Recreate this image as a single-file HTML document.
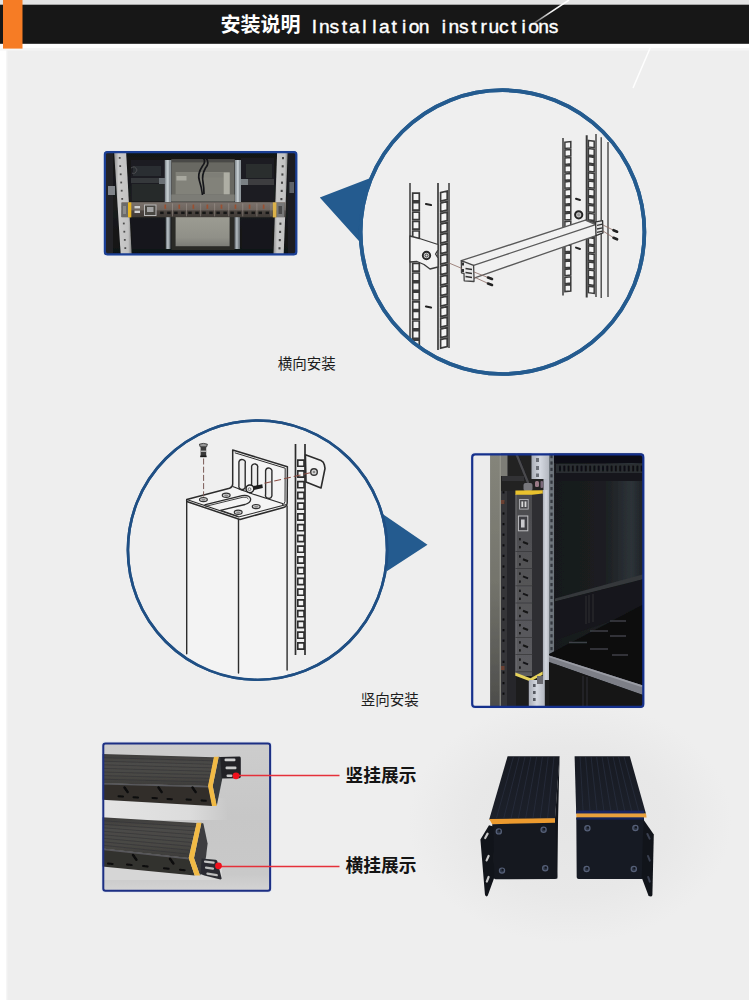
<!DOCTYPE html>
<html><head><meta charset="utf-8"><title>Installation instructions</title>
<style>html,body{margin:0;padding:0;background:#eeeeee;font-family:"Liberation Sans",sans-serif;}svg{display:block}</style>
</head><body>
<svg width="749" height="1000" viewBox="0 0 749 1000">
<rect x="0" y="0" width="749" height="1000" fill="#eeeeee"/>
<defs><radialGradient id="p4bg" cx="0.5" cy="0.45" r="0.5"><stop offset="0" stop-color="#e5e5e5"/><stop offset="0.55" stop-color="#e8e8e8"/><stop offset="0.9" stop-color="#eeeeee"/><stop offset="1" stop-color="#eeeeee"/></radialGradient></defs>
<rect x="390" y="700" width="360" height="270" fill="url(#p4bg)"/>
<rect x="0" y="44" width="6.5" height="956" fill="#ffffff"/>
<rect x="6.2" y="44" width="1.2" height="956" fill="#f6f6f6"/>
<rect x="0" y="0" width="749" height="5" fill="#e3e3e3"/>
<rect x="0" y="43.5" width="749" height="5" fill="#ffffff"/>
<rect x="0" y="48.5" width="749" height="2" fill="#f6f6f6"/>
<rect x="0" y="4.7" width="749" height="39.1" fill="#171717"/>
<rect x="3" y="0" width="19.5" height="48.6" fill="#f67c25"/>
<text x="220.5" y="31.8" font-family="'Liberation Sans', 'Noto Sans CJK SC', sans-serif" font-size="20" font-weight="bold" fill="#ffffff">安装说明</text>
<text y="32.6" font-family="'Liberation Sans', sans-serif" font-size="19.2" fill="#ffffff" stroke="#ffffff" stroke-width="0.4" text-anchor="middle"><tspan x="314.50">I</tspan><tspan x="324.46">n</tspan><tspan x="334.42">s</tspan><tspan x="344.38">t</tspan><tspan x="354.34">a</tspan><tspan x="364.30">l</tspan><tspan x="374.26">l</tspan><tspan x="384.22">a</tspan><tspan x="394.18">t</tspan><tspan x="404.14">i</tspan><tspan x="414.10">o</tspan><tspan x="424.06">n</tspan><tspan x="443.98">i</tspan><tspan x="453.94">n</tspan><tspan x="463.90">s</tspan><tspan x="473.86">t</tspan><tspan x="483.82">r</tspan><tspan x="493.78">u</tspan><tspan x="503.74">c</tspan><tspan x="513.70">t</tspan><tspan x="523.66">i</tspan><tspan x="533.62">o</tspan><tspan x="543.58">n</tspan><tspan x="553.54">s</tspan></text>
<linearGradient id="dl" gradientUnits="userSpaceOnUse" x1="534" y1="23" x2="569" y2="0"><stop offset="0" stop-color="#fff" stop-opacity="0.35"/><stop offset="0.5" stop-color="#fff" stop-opacity="0.95"/><stop offset="1" stop-color="#fff" stop-opacity="1"/></linearGradient>
<line x1="534.5" y1="22.8" x2="569" y2="0" stroke="url(#dl)" stroke-width="1.5"/>
<line x1="633" y1="88" x2="651" y2="46" stroke="#ffffff" stroke-width="1.5" opacity="0.95"/>
<text x="277.8" y="369" font-family="'Liberation Sans', 'Noto Sans CJK SC', sans-serif" font-size="14.5" fill="#1c1c1c">横向安装</text>
<text x="360.7" y="704.6" font-family="'Liberation Sans', 'Noto Sans CJK SC', sans-serif" font-size="14.5" fill="#1c1c1c">竖向安装</text>
<text x="345.6" y="782" font-family="'Liberation Sans', 'Noto Sans CJK SC', sans-serif" font-size="17.7" font-weight="bold" fill="#141414">竖挂展示</text>
<text x="345.6" y="872" font-family="'Liberation Sans', 'Noto Sans CJK SC', sans-serif" font-size="17.7" font-weight="bold" fill="#141414">横挂展示</text>
<clipPath id="cl1"><circle cx="502.5" cy="232.1" r="140.4"/></clipPath>
<path fill="#245b8f" d="M319.8 197.6 L369.8 178.3 Q360 205 359.4 241.5 Z"/>
<circle cx="502.5" cy="232.1" r="141.9" fill="#efefef" stroke="#245b8f" stroke-width="3.7"/>
<g clip-path="url(#cl1)">
<g stroke="#3a3a3a" fill="none">
<line x1="410" y1="183" x2="410" y2="345" stroke-width="1.5"/>
<line x1="438" y1="183" x2="438" y2="350" stroke-width="1.7"/>
<line x1="449" y1="183" x2="449" y2="348" stroke-width="1.5"/>
</g>
<path d="M412.7 193.2 L419.3 193.2 L419.3 200.8 L412.7 200.8 Z M412.7 202.6 L419.3 202.6 L419.3 210.2 L412.7 210.2 Z M412.7 212.1 L419.3 212.1 L419.3 219.7 L412.7 219.7 Z M412.7 221.5 L419.3 221.5 L419.3 229.1 L412.7 229.1 Z M412.7 231.0 L419.3 231.0 L419.3 238.6 L412.7 238.6 Z " fill="#f4f4f4" stroke="#3a3a3a" stroke-width="1.7" stroke-linejoin="miter"/>
<path d="M412.7 263.4 L419.3 263.4 L419.3 271.2 L412.7 271.2 Z M412.7 273.0 L419.3 273.0 L419.3 280.8 L412.7 280.8 Z M412.7 282.6 L419.3 282.6 L419.3 290.4 L412.7 290.4 Z M412.7 292.2 L419.3 292.2 L419.3 300.0 L412.7 300.0 Z M412.7 301.8 L419.3 301.8 L419.3 309.6 L412.7 309.6 Z M412.7 311.4 L419.3 311.4 L419.3 319.2 L412.7 319.2 Z M412.7 321.0 L419.3 321.0 L419.3 328.8 L412.7 328.8 Z M412.7 330.6 L419.3 330.6 L419.3 338.4 L412.7 338.4 Z M412.7 340.2 L419.3 340.2 L419.3 348.0 L412.7 348.0 Z " fill="#f4f4f4" stroke="#3a3a3a" stroke-width="1.7" stroke-linejoin="miter"/>
<path d="M440.6 192.6 L447.2 191.0 L447.2 199.6 L440.6 201.2 Z M440.6 203.1 L447.2 201.5 L447.2 210.1 L440.6 211.7 Z M440.6 213.6 L447.2 212.0 L447.2 220.6 L440.6 222.2 Z M440.6 224.1 L447.2 222.5 L447.2 231.1 L440.6 232.7 Z M440.6 234.6 L447.2 233.0 L447.2 241.6 L440.6 243.2 Z M440.6 245.1 L447.2 243.5 L447.2 252.1 L440.6 253.7 Z M440.6 255.6 L447.2 254.0 L447.2 262.6 L440.6 264.2 Z M440.6 266.1 L447.2 264.5 L447.2 273.1 L440.6 274.7 Z M440.6 276.6 L447.2 275.0 L447.2 283.6 L440.6 285.2 Z M440.6 287.1 L447.2 285.5 L447.2 294.1 L440.6 295.7 Z M440.6 297.6 L447.2 296.0 L447.2 304.6 L440.6 306.2 Z M440.6 308.1 L447.2 306.5 L447.2 315.1 L440.6 316.7 Z M440.6 318.6 L447.2 317.0 L447.2 325.6 L440.6 327.2 Z M440.6 329.1 L447.2 327.5 L447.2 336.1 L440.6 337.7 Z M440.6 339.6 L447.2 338.0 L447.2 346.6 L440.6 348.2 Z " fill="#f4f4f4" stroke="#3a3a3a" stroke-width="1.7" stroke-linejoin="miter"/>
<line x1="426" y1="204" x2="431" y2="205" stroke="#222" stroke-width="2.2" stroke-linecap="round"/>
<line x1="426" y1="306.5" x2="431" y2="307.5" stroke="#222" stroke-width="2.2" stroke-linecap="round"/>
<path d="M410 236 L419.5 238.5 L438 244.5 L438 250 L435.5 254 L438 258 L438 267 L430 269 L424 264.5 L417 261.5 L410 262 Z" fill="#f2f2f2" stroke="#3a3a3a" stroke-width="1.3" stroke-linejoin="round"/>
<circle cx="426.5" cy="255.5" r="3.7" fill="#d8d8d8" stroke="#262626" stroke-width="1.9"/>
<circle cx="426.5" cy="255.5" r="1.5" fill="none" stroke="#333" stroke-width="0.9"/>
<g stroke="#3a3a3a" fill="none">
<line x1="563" y1="138" x2="563" y2="295.5" stroke-width="1.5"/>
<line x1="586.7" y1="135.3" x2="586.7" y2="297.5" stroke-width="2"/>
<line x1="596" y1="134" x2="596" y2="297" stroke-width="1.4"/>
<line x1="601.2" y1="137.3" x2="601.2" y2="298" stroke-width="1.3"/>
<line x1="608" y1="142" x2="608" y2="297" stroke-width="1.3"/>
</g>
<path d="M564.9 142.2 L570.8 141.6 L570.8 147.9 L564.9 148.5 Z M564.9 150.1 L570.8 149.5 L570.8 155.8 L564.9 156.4 Z M564.9 158.1 L570.8 157.5 L570.8 163.8 L564.9 164.4 Z M564.9 166.0 L570.8 165.4 L570.8 171.8 L564.9 172.3 Z M564.9 174.0 L570.8 173.4 L570.8 179.7 L564.9 180.3 Z M564.9 181.9 L570.8 181.3 L570.8 187.7 L564.9 188.2 Z M564.9 189.9 L570.8 189.3 L570.8 195.6 L564.9 196.2 Z M564.9 197.8 L570.8 197.2 L570.8 203.6 L564.9 204.2 Z M564.9 205.8 L570.8 205.2 L570.8 211.5 L564.9 212.1 Z M564.9 213.7 L570.8 213.1 L570.8 219.4 L564.9 220.0 Z M564.9 221.7 L570.8 221.1 L570.8 227.4 L564.9 228.0 Z M564.9 229.7 L570.8 229.1 L570.8 235.4 L564.9 236.0 Z M564.9 237.6 L570.8 237.0 L570.8 243.3 L564.9 243.9 Z M564.9 245.5 L570.8 244.9 L570.8 251.2 L564.9 251.8 Z M564.9 253.5 L570.8 252.9 L570.8 259.2 L564.9 259.8 Z M564.9 261.5 L570.8 260.9 L570.8 267.2 L564.9 267.8 Z M564.9 269.4 L570.8 268.8 L570.8 275.1 L564.9 275.7 Z M564.9 277.4 L570.8 276.8 L570.8 283.1 L564.9 283.7 Z M564.9 285.3 L570.8 284.7 L570.8 291.0 L564.9 291.6 Z " fill="#f4f4f4" stroke="#3a3a3a" stroke-width="1.5" stroke-linejoin="miter"/>
<path d="M588.4 140.4 L594.2 141.2 L594.2 147.7 L588.4 146.9 Z M588.4 148.5 L594.2 149.3 L594.2 155.8 L588.4 155.0 Z M588.4 156.6 L594.2 157.4 L594.2 163.9 L588.4 163.1 Z M588.4 164.7 L594.2 165.5 L594.2 172.0 L588.4 171.2 Z M588.4 172.8 L594.2 173.6 L594.2 180.1 L588.4 179.3 Z M588.4 180.9 L594.2 181.7 L594.2 188.2 L588.4 187.4 Z M588.4 189.0 L594.2 189.8 L594.2 196.3 L588.4 195.5 Z M588.4 197.1 L594.2 197.9 L594.2 204.4 L588.4 203.6 Z M588.4 205.2 L594.2 206.0 L594.2 212.5 L588.4 211.7 Z M588.4 213.3 L594.2 214.1 L594.2 220.6 L588.4 219.8 Z M588.4 221.4 L594.2 222.2 L594.2 228.7 L588.4 227.9 Z M588.4 229.5 L594.2 230.3 L594.2 236.8 L588.4 236.0 Z M588.4 237.6 L594.2 238.4 L594.2 244.9 L588.4 244.1 Z M588.4 245.7 L594.2 246.5 L594.2 253.0 L588.4 252.2 Z M588.4 253.8 L594.2 254.6 L594.2 261.1 L588.4 260.3 Z M588.4 261.9 L594.2 262.7 L594.2 269.2 L588.4 268.4 Z M588.4 270.0 L594.2 270.8 L594.2 277.3 L588.4 276.5 Z M588.4 278.1 L594.2 278.9 L594.2 285.4 L588.4 284.6 Z M588.4 286.2 L594.2 287.0 L594.2 293.5 L588.4 292.7 Z " fill="#f4f4f4" stroke="#3a3a3a" stroke-width="1.5" stroke-linejoin="miter"/>
<line x1="576" y1="198.7" x2="580" y2="200" stroke="#222" stroke-width="2" stroke-linecap="round"/>
<line x1="576" y1="247.6" x2="580" y2="249" stroke="#222" stroke-width="2" stroke-linecap="round"/>
<circle cx="578.7" cy="214.8" r="3.6" fill="#c8c8c8" stroke="#242424" stroke-width="2"/>
<circle cx="578.7" cy="214.8" r="1.6" fill="#999" stroke="none"/>
<path d="M461.3 260.7 L585.4 220.2 L595.6 224.6 L596 235.6 L474 278.1 L473.6 265.4 Z" fill="#f1f1f1" stroke="none"/>
<g stroke="#5a5a5a" stroke-width="1.3" fill="none" stroke-linecap="round">
<line x1="461.3" y1="260.7" x2="585.4" y2="220.2"/>
<line x1="473.6" y1="265.4" x2="595.6" y2="224.6"/>
<line x1="474" y1="278.1" x2="596" y2="235.6"/>
<line x1="585.4" y1="220.2" x2="595.6" y2="224.6"/>
</g>
<path d="M461.3 260.7 L473.6 265.4 L474 278.1 L474 281.5 L464.2 280.8 L464 273.5 L461.5 272.8 Z" fill="#e9e9e9" stroke="#444" stroke-width="1.3" stroke-linejoin="round"/>
<path d="M465.5 268.5 L472 269.5 M465.5 272.5 L472 273.5 M465.5 276.5 L472 277.5" stroke="#333" stroke-width="1.4" fill="none"/>
<rect x="462" y="262.5" width="2" height="3" fill="#333"/>
<rect x="462" y="269" width="2" height="3" fill="#333"/>
<path d="M449 263 L462 268.5 M474 272 L490 278.3 M474 277 L490 284.3" stroke="#8a6a62" stroke-width="0.8" fill="none"/>
<path d="M488 277.6 l4 1.4 M488 283.6 l4 1.4" stroke="#222" stroke-width="2.6" stroke-linecap="round" fill="none"/>
<path d="M595.6 221.8 L602.6 220.6 L603 232.8 L596 235.6 Z" fill="#e4e4e4" stroke="#333" stroke-width="1.3" stroke-linejoin="round"/>
<path d="M597 225.4 L602.5 224.2 M597 229 L602.5 227.8 M597 232.4 L602.5 231.2" stroke="#333" stroke-width="1.3" fill="none"/>
<path d="M603 225 L614 230.5 M603 231 L614 238" stroke="#8a6a62" stroke-width="0.8" fill="none"/>
<path d="M613.5 230.2 l3.6 1.5 M613.5 237.8 l3.6 1.5" stroke="#222" stroke-width="2.6" stroke-linecap="round" fill="none"/>
</g>
<circle cx="502.5" cy="232.1" r="141.9" fill="none" stroke="#245b8f" stroke-width="3.7"/>
<clipPath id="cl2"><circle cx="257.5" cy="550.1" r="128.6"/></clipPath>
<path fill="#245b8f" d="M427.5 544.7 L382.3 513.8 Q388 540 386.8 571.2 Z"/>
<circle cx="257.5" cy="550.1" r="129.6" fill="#efefef" stroke="#1f4f84" stroke-width="2.6"/>
<g clip-path="url(#cl2)">
<g stroke="#2c2c2c" fill="none">
<line x1="295.5" y1="444" x2="295.5" y2="655" stroke-width="1.7"/>
<line x1="305" y1="444" x2="305" y2="655" stroke-width="1.7"/>
</g>
<path d="M297.8 460.1 L304.0 460.1 L304.0 466.3 L297.8 466.3 Z M297.8 470.9 L304.0 470.9 L304.0 477.1 L297.8 477.1 Z M297.8 481.6 L304.0 481.6 L304.0 487.8 L297.8 487.8 Z M297.8 492.4 L304.0 492.4 L304.0 498.6 L297.8 498.6 Z M297.8 503.1 L304.0 503.1 L304.0 509.3 L297.8 509.3 Z M297.8 513.9 L304.0 513.9 L304.0 520.1 L297.8 520.1 Z M297.8 524.6 L304.0 524.6 L304.0 530.8 L297.8 530.8 Z M297.8 535.4 L304.0 535.4 L304.0 541.6 L297.8 541.6 Z M297.8 546.1 L304.0 546.1 L304.0 552.3 L297.8 552.3 Z M297.8 556.9 L304.0 556.9 L304.0 563.1 L297.8 563.1 Z M297.8 567.6 L304.0 567.6 L304.0 573.8 L297.8 573.8 Z M297.8 578.4 L304.0 578.4 L304.0 584.6 L297.8 584.6 Z M297.8 589.1 L304.0 589.1 L304.0 595.3 L297.8 595.3 Z M297.8 599.9 L304.0 599.9 L304.0 606.1 L297.8 606.1 Z M297.8 610.6 L304.0 610.6 L304.0 616.8 L297.8 616.8 Z M297.8 621.4 L304.0 621.4 L304.0 627.6 L297.8 627.6 Z M297.8 632.1 L304.0 632.1 L304.0 638.3 L297.8 638.3 Z M297.8 642.9 L304.0 642.9 L304.0 649.1 L297.8 649.1 Z " fill="#f4f4f4" stroke="#2c2c2c" stroke-width="1.6" stroke-linejoin="miter"/>
<path d="M305.4 454.7 L321 460.6 Q323.8 461.8 324.4 465 L325 468.5 L321 488 L306 482 Z" fill="#f2f2f2" stroke="#2c2c2c" stroke-width="1.6" stroke-linejoin="round"/>
<circle cx="314" cy="472" r="3.3" fill="#d8d8d8" stroke="#333" stroke-width="1.4"/>
<circle cx="314" cy="472" r="1.3" fill="#888"/>
<path d="M186.7 499.6 L232 487.6 L287 504.5 L287.1 690 L186.7 690 Z" fill="#f3f3f3" stroke="none"/>
<g stroke="#2c2c2c" stroke-width="1.4" fill="none" stroke-linecap="round">
<line x1="186.7" y1="500" x2="186.7" y2="653.8"/>
<line x1="238.5" y1="519" x2="238.5" y2="673"/>
<line x1="287.1" y1="506" x2="287.1" y2="670"/>
</g>
<path d="M232.7 450 L287.4 466.7 L287.2 503 Q287 506.5 283.5 507.5 L240 519.5 L238.5 519 L186.7 501.5 L186.7 499.4 L229.5 488.3 Q232.7 487.2 232.7 484 Z" fill="#f4f4f4" stroke="#2c2c2c" stroke-width="1.5" stroke-linejoin="round"/>
<path d="M234.8 452.8 L285.2 468.2 L285 501.5 Q284.8 504.2 282 505" fill="none" stroke="#2c2c2c" stroke-width="1"/>
<path d="M232.7 486.5 Q240 489.5 252.7 494 L283.2 503.8" fill="none" stroke="#2c2c2c" stroke-width="1.2"/>
<path d="M186.7 499.4 L238.6 517 L286.5 504.5" fill="none" stroke="#2c2c2c" stroke-width="1.1"/>
<path d="M238.9 461.9 A3.1 3.1 0 0 1 245.2 463.6 L245.2 487.1 A3.1 3.1 0 0 1 238.9 485.5 Z" fill="#eeeeee" stroke="#2c2c2c" stroke-width="1.4"/>
<path d="M251.6 466.2 A3.0 3.0 0 0 1 257.6 467.8 L257.6 485.1 A3.0 3.0 0 0 1 251.6 483.5 Z" fill="#eeeeee" stroke="#2c2c2c" stroke-width="1.4"/>
<path d="M265.6 470.5 A3.1 3.1 0 0 1 271.9 472.1 L271.9 495.9 A3.1 3.1 0 0 1 265.6 494.2 Z" fill="#eeeeee" stroke="#2c2c2c" stroke-width="1.4"/>
<path d="M204.5 504.8 L242 495.6 Q249 494.5 250.5 498.5 Q251.5 502.5 245 504.5 L220.5 510.3" fill="none" stroke="#2c2c2c" stroke-width="1.3"/>
<path d="M205.5 506.4 L243 497.2 Q247.5 496.5 248.4 499" fill="none" stroke="#2c2c2c" stroke-width="0.9"/>
<path d="M220.5 510.3 L238.5 516.5" fill="none" stroke="#2c2c2c" stroke-width="1.1"/>
<ellipse cx="203.4" cy="499.6" rx="3.9" ry="2.1" fill="#cfcfcf" stroke="#333" stroke-width="1.2"/>
<ellipse cx="203.4" cy="499.8" rx="2" ry="1" fill="#8c8c8c"/>
<ellipse cx="226.2" cy="495.3" rx="3.9" ry="2.1" fill="#cfcfcf" stroke="#333" stroke-width="1.2"/>
<ellipse cx="226.2" cy="495.5" rx="2" ry="1" fill="#8c8c8c"/>
<ellipse cx="238.2" cy="512.2" rx="3.9" ry="2.1" fill="#cfcfcf" stroke="#333" stroke-width="1.2"/>
<ellipse cx="238.2" cy="512.4000000000001" rx="2" ry="1" fill="#8c8c8c"/>
<ellipse cx="256.2" cy="506.6" rx="3.9" ry="2.1" fill="#cfcfcf" stroke="#333" stroke-width="1.2"/>
<ellipse cx="256.2" cy="506.8" rx="2" ry="1" fill="#8c8c8c"/>
<path d="M252 486.3 L262.3 484.2 L262.8 488 L253 490.2 Z" fill="#1d1d1d"/>
<circle cx="249.9" cy="488.8" r="3.9" fill="#f0f0f0" stroke="#222" stroke-width="1.5"/>
<circle cx="249.5" cy="489.2" r="1.4" fill="none" stroke="#555" stroke-width="0.8"/>
<line x1="264.5" y1="483.3" x2="311" y2="472.5" stroke="#8c4f45" stroke-width="1.1" stroke-dasharray="7 3"/>
<path d="M199.4 444.2 Q203.4 442.6 207.4 444.2 L206.6 446.8 L200.2 446.8 Z" fill="#9a9a9a" stroke="#333" stroke-width="0.9"/>
<rect x="200.6" y="446.8" width="5.6" height="9.6" fill="#3a3a3a"/>
<rect x="200.6" y="450.6" width="5.6" height="1.3" fill="#bdbdbd"/>
<rect x="200.2" y="455.6" width="6.4" height="1.6" fill="#1a1a1a"/>
<line x1="203.6" y1="458.5" x2="203.6" y2="496.5" stroke="#7a5a55" stroke-width="1" stroke-dasharray="6 2.2"/>
</g>
<circle cx="257.5" cy="550.1" r="129.6" fill="none" stroke="#1f4f84" stroke-width="2.6"/>
<defs>
<filter id="soft" x="-5%" y="-5%" width="110%" height="110%"><feGaussianBlur stdDeviation="0.55"/></filter>
<filter id="soft2" x="-5%" y="-5%" width="110%" height="110%"><feGaussianBlur stdDeviation="0.4"/></filter>
<linearGradient id="p1bg" x1="0" y1="0" x2="0" y2="1"><stop offset="0" stop-color="#101214"/><stop offset="0.5" stop-color="#1b1d1f"/><stop offset="1" stop-color="#0f1012"/></linearGradient>
<linearGradient id="railv" x1="0" y1="0" x2="1" y2="0"><stop offset="0" stop-color="#8e8e8e"/><stop offset="0.25" stop-color="#cacaca"/><stop offset="0.8" stop-color="#c2c2c2"/><stop offset="1" stop-color="#7e7e7e"/></linearGradient>
<linearGradient id="pdu1" x1="0" y1="0" x2="0" y2="1"><stop offset="0" stop-color="#7a716b"/><stop offset="0.5" stop-color="#6e655f"/><stop offset="0.58" stop-color="#4c4641"/><stop offset="1" stop-color="#3e3935"/></linearGradient>
<linearGradient id="p1low" x1="0" y1="0" x2="0" y2="1"><stop offset="0" stop-color="#9c9c92"/><stop offset="0.7" stop-color="#909088"/><stop offset="1" stop-color="#7c7c76"/></linearGradient>
<clipPath id="ph1"><rect x="104.2" y="151.4" width="192.8" height="103.6" rx="2.5"/></clipPath>
</defs>
<rect x="103.2" y="150.6" width="194.8" height="105.4" rx="3.5" fill="#dfe6f2"/>
<g clip-path="url(#ph1)"><g filter="url(#soft)">
<rect x="100" y="148" width="202" height="112" fill="url(#p1bg)"/>
<rect x="106" y="153" width="7" height="100" fill="#202328"/>
<rect x="108" y="186" width="7" height="9" fill="#80848a"/>
<rect x="131" y="160" width="34" height="41" fill="#1d1f22"/>
<rect x="133" y="166" width="28" height="10" fill="#2c2e31"/>
<rect x="131" y="178" width="35" height="5" fill="#35373a"/>
<rect x="132" y="184" width="32" height="17" fill="#27292c"/>
<path d="M131 168 q4 -3 6 2 q-2 5 -5 3" stroke="#4a4c50" stroke-width="1" fill="none"/>
<rect x="132" y="219" width="32" height="30" fill="#17191b"/>
<rect x="241" y="158" width="33" height="43" fill="#1c1e20"/>
<rect x="246" y="164" width="26" height="14" fill="#2b2d2f"/>
<rect x="243" y="179" width="31" height="6" fill="#3c3e40"/>
<rect x="242" y="219" width="30" height="30" fill="#16181a"/>
<rect x="171.4" y="159.4" width="63.2" height="42" fill="#686862"/>
<rect x="171.4" y="159.4" width="63.2" height="3" fill="#4a4a46"/>
<rect x="175.6" y="172" width="54" height="22.5" fill="#82827a"/>
<rect x="176.5" y="176" width="10" height="4.5" fill="#a8a89f"/>
<rect x="200" y="173" width="24" height="4.5" fill="#7e7e77"/>
<rect x="223.7" y="172.5" width="6" height="22" fill="#aeaea4"/>
<rect x="171.4" y="194.5" width="63.2" height="7" fill="#7c7c76"/>
<rect x="171.4" y="217" width="63.2" height="33" fill="#2a2a28"/>
<rect x="175.6" y="217" width="54" height="29.2" fill="url(#p1low)"/>
<path d="M203.5 158 Q206 162 202.5 166 Q197 174 199.5 181 Q201.5 187 202.5 195 M206 158 Q210 163 205.5 168 Q201.5 175 203 182 Q204 188 204 194" stroke="#17181a" stroke-width="1.7" fill="none"/>
<rect x="164.8" y="160" width="6.4" height="42" fill="#8f979c"/>
<rect x="166.4" y="160" width="2.4" height="42" fill="#c2cace"/>
<rect x="165.8" y="217" width="4.6" height="32" fill="#7f878c"/>
<rect x="167" y="217" width="1.8" height="32" fill="#b0b8bd"/>
<rect x="235" y="160" width="6" height="42" fill="#8f979c"/>
<rect x="236.6" y="160" width="2.2" height="42" fill="#c2cace"/>
<rect x="234.6" y="217" width="5.2" height="32" fill="#7f878c"/>
<rect x="236" y="217" width="1.8" height="32" fill="#aab2b7"/>
<rect x="159" y="178" width="6" height="6" fill="#6a7074"/>
<rect x="241" y="179" width="7" height="6" fill="#7a8084"/>
<path d="M114 150 L126 150 L131.8 256 L120.8 256 Z" fill="url(#railv)"/>
<path d="M277.2 150 L287.8 150 L283.6 256 L273.4 256 Z" fill="url(#railv)"/>
<rect x="118.8" y="157.0" width="1.8" height="1.8" fill="#4e4e4e"/><rect x="282.0" y="157.0" width="2" height="2.2" fill="#444"/><rect x="119.3" y="165.2" width="1.8" height="1.8" fill="#4e4e4e"/><rect x="281.7" y="165.2" width="2" height="2.2" fill="#444"/><rect x="119.8" y="173.4" width="1.8" height="1.8" fill="#4e4e4e"/><rect x="281.4" y="173.4" width="2" height="2.2" fill="#444"/><rect x="120.3" y="181.6" width="1.8" height="1.8" fill="#4e4e4e"/><rect x="281.0" y="181.6" width="2" height="2.2" fill="#444"/><rect x="120.8" y="189.8" width="1.8" height="1.8" fill="#4e4e4e"/><rect x="280.7" y="189.8" width="2" height="2.2" fill="#444"/><rect x="121.3" y="198.0" width="1.8" height="1.8" fill="#4e4e4e"/><rect x="280.4" y="198.0" width="2" height="2.2" fill="#444"/><rect x="121.8" y="206.2" width="1.8" height="1.8" fill="#4e4e4e"/><rect x="280.1" y="206.2" width="2" height="2.2" fill="#444"/><rect x="122.4" y="214.4" width="1.8" height="1.8" fill="#4e4e4e"/><rect x="279.8" y="214.4" width="2" height="2.2" fill="#444"/><rect x="122.9" y="222.6" width="1.8" height="1.8" fill="#4e4e4e"/><rect x="279.4" y="222.6" width="2" height="2.2" fill="#444"/><rect x="123.4" y="230.8" width="1.8" height="1.8" fill="#4e4e4e"/><rect x="279.1" y="230.8" width="2" height="2.2" fill="#444"/><rect x="123.9" y="239.0" width="1.8" height="1.8" fill="#4e4e4e"/><rect x="278.8" y="239.0" width="2" height="2.2" fill="#444"/><rect x="124.4" y="247.2" width="1.8" height="1.8" fill="#4e4e4e"/><rect x="278.5" y="247.2" width="2" height="2.2" fill="#444"/>
<rect x="288" y="150" width="10" height="106" fill="#1a1d23"/>
<rect x="289.4" y="182" width="4.6" height="11" fill="#5e6268"/>
<rect x="121.5" y="202.2" width="164" height="15" fill="url(#pdu1)"/>
<rect x="121.5" y="203" width="6.5" height="14" fill="#6a6a6a"/>
<rect x="123" y="206" width="3" height="8" fill="#8a8a8a"/>
<rect x="276.4" y="203" width="8" height="14" fill="#777"/>
<rect x="278.5" y="206" width="3.5" height="8" fill="#4a4a4a"/>
<rect x="128" y="202.4" width="3.3" height="15" fill="#e6b422"/>
<rect x="272.8" y="202.4" width="3.6" height="15" fill="#dcb24a"/>
<rect x="134.5" y="206" width="5.5" height="2.4" fill="#d0d0d0"/><rect x="134.5" y="210.6" width="5.5" height="2.4" fill="#d0d0d0"/>
<rect x="144.5" y="205" width="11.5" height="10.5" fill="#4a4643" stroke="#b8b8b8" stroke-width="1"/>
<rect x="147" y="207" width="6.5" height="5" fill="#a2a2a2"/>
<rect x="164.4" y="204.6" width="1.7" height="4.2" fill="#9a5030"/><rect x="160.2" y="211.6" width="3.4" height="2.5" fill="#161413"/><rect x="167.2" y="211.6" width="3.4" height="2.5" fill="#161413"/><rect x="172.2" y="203.4" width="0.8" height="13" fill="#a69e97" opacity="0.6"/><rect x="178.4" y="204.6" width="1.7" height="4.2" fill="#9a5030"/><rect x="174.2" y="211.6" width="3.4" height="2.5" fill="#161413"/><rect x="181.2" y="211.6" width="3.4" height="2.5" fill="#161413"/><rect x="186.2" y="203.4" width="0.8" height="13" fill="#a69e97" opacity="0.6"/><rect x="192.5" y="204.6" width="1.7" height="4.2" fill="#9a5030"/><rect x="188.3" y="211.6" width="3.4" height="2.5" fill="#161413"/><rect x="195.3" y="211.6" width="3.4" height="2.5" fill="#161413"/><rect x="200.3" y="203.4" width="0.8" height="13" fill="#a69e97" opacity="0.6"/><rect x="206.5" y="204.6" width="1.7" height="4.2" fill="#9a5030"/><rect x="202.3" y="211.6" width="3.4" height="2.5" fill="#161413"/><rect x="209.3" y="211.6" width="3.4" height="2.5" fill="#161413"/><rect x="214.3" y="203.4" width="0.8" height="13" fill="#a69e97" opacity="0.6"/><rect x="220.6" y="204.6" width="1.7" height="4.2" fill="#9a5030"/><rect x="216.4" y="211.6" width="3.4" height="2.5" fill="#161413"/><rect x="223.4" y="211.6" width="3.4" height="2.5" fill="#161413"/><rect x="228.4" y="203.4" width="0.8" height="13" fill="#a69e97" opacity="0.6"/><rect x="234.6" y="204.6" width="1.7" height="4.2" fill="#9a5030"/><rect x="230.4" y="211.6" width="3.4" height="2.5" fill="#161413"/><rect x="237.4" y="211.6" width="3.4" height="2.5" fill="#161413"/><rect x="242.4" y="203.4" width="0.8" height="13" fill="#a69e97" opacity="0.6"/><rect x="248.7" y="204.6" width="1.7" height="4.2" fill="#9a5030"/><rect x="244.5" y="211.6" width="3.4" height="2.5" fill="#161413"/><rect x="251.5" y="211.6" width="3.4" height="2.5" fill="#161413"/><rect x="256.5" y="203.4" width="0.8" height="13" fill="#a69e97" opacity="0.6"/><rect x="262.8" y="204.6" width="1.7" height="4.2" fill="#9a5030"/><rect x="258.6" y="211.6" width="3.4" height="2.5" fill="#161413"/><rect x="265.6" y="211.6" width="3.4" height="2.5" fill="#161413"/><rect x="270.6" y="203.4" width="0.8" height="13" fill="#a69e97" opacity="0.6"/>
</g></g>
<rect x="104.9" y="152.1" width="191.4" height="102.2" rx="2.5" fill="none" stroke="#1b3f95" stroke-width="2.2"/>
<defs>
<clipPath id="ph2"><rect x="471.5" y="453.6" width="172.5" height="254" rx="3"/></clipPath>
<linearGradient id="p2r" x1="0" y1="0" x2="1" y2="0"><stop offset="0" stop-color="#17191b"/><stop offset="0.55" stop-color="#1b1e21"/><stop offset="0.85" stop-color="#2d3338"/><stop offset="1" stop-color="#1c2024"/></linearGradient>
<linearGradient id="p2post" x1="0" y1="0" x2="0" y2="1"><stop offset="0" stop-color="#85857b"/><stop offset="0.5" stop-color="#74746c"/><stop offset="1" stop-color="#4c4c4a"/></linearGradient>
<linearGradient id="p2face" x1="0" y1="0" x2="0" y2="1"><stop offset="0" stop-color="#4c4c4f"/><stop offset="0.5" stop-color="#545457"/><stop offset="1" stop-color="#5c5c60"/></linearGradient>
<linearGradient id="p2sil" x1="0" y1="0" x2="1" y2="0"><stop offset="0" stop-color="#a9adb6"/><stop offset="0.5" stop-color="#d4d8e0"/><stop offset="1" stop-color="#b4b8c0"/></linearGradient>
</defs>
<rect x="470.4" y="452.6" width="174.6" height="256" rx="4" fill="#dfe4f0"/>
<g clip-path="url(#ph2)"><g filter="url(#soft)">
<rect x="471" y="453" width="174" height="256" fill="#1a1c1e"/>
<rect x="471" y="453" width="19.6" height="256" fill="#ececec"/>
<rect x="490.2" y="453" width="10.8" height="256" fill="url(#p2post)"/>
<rect x="499.6" y="453" width="1.6" height="256" fill="#9a9a92" opacity="0.7"/>
<rect x="501" y="453" width="15" height="256" fill="#26262a"/>
<rect x="501" y="453" width="6" height="256" fill="#343438"/>
<rect x="502.6" y="470.0" width="1.8" height="2.2" fill="#0c0c0e"/><rect x="502.6" y="480.6" width="1.8" height="2.2" fill="#0c0c0e"/><rect x="502.6" y="491.2" width="1.8" height="2.2" fill="#0c0c0e"/><rect x="502.6" y="501.8" width="1.8" height="2.2" fill="#0c0c0e"/><rect x="502.6" y="512.4" width="1.8" height="2.2" fill="#0c0c0e"/><rect x="502.6" y="523.0" width="1.8" height="2.2" fill="#0c0c0e"/><rect x="502.6" y="533.6" width="1.8" height="2.2" fill="#0c0c0e"/><rect x="502.6" y="544.2" width="1.8" height="2.2" fill="#0c0c0e"/><rect x="502.6" y="554.8" width="1.8" height="2.2" fill="#0c0c0e"/><rect x="502.6" y="565.4" width="1.8" height="2.2" fill="#0c0c0e"/><rect x="502.6" y="576.0" width="1.8" height="2.2" fill="#0c0c0e"/><rect x="502.6" y="586.6" width="1.8" height="2.2" fill="#0c0c0e"/><rect x="502.6" y="597.2" width="1.8" height="2.2" fill="#0c0c0e"/><rect x="502.6" y="607.8" width="1.8" height="2.2" fill="#0c0c0e"/><rect x="502.6" y="618.4" width="1.8" height="2.2" fill="#0c0c0e"/><rect x="502.6" y="629.0" width="1.8" height="2.2" fill="#0c0c0e"/><rect x="502.6" y="639.6" width="1.8" height="2.2" fill="#0c0c0e"/><rect x="502.6" y="650.2" width="1.8" height="2.2" fill="#0c0c0e"/><rect x="502.6" y="660.8" width="1.8" height="2.2" fill="#0c0c0e"/><rect x="502.6" y="671.4" width="1.8" height="2.2" fill="#0c0c0e"/><rect x="502.6" y="682.0" width="1.8" height="2.2" fill="#0c0c0e"/><rect x="502.6" y="692.6" width="1.8" height="2.2" fill="#0c0c0e"/>
<rect x="501" y="500" width="3.5" height="4" fill="#6a4030"/>
<rect x="501" y="666" width="3.5" height="4" fill="#6a4030"/>
<rect x="501" y="453" width="31" height="38" fill="#202024"/>
<rect x="501" y="455" width="6.5" height="21" fill="#7d7d77"/>
<rect x="502" y="476" width="22" height="5" fill="#323236"/>
<path d="M516 453 L531 490" stroke="#4a4a4e" stroke-width="2.2" fill="none"/>
<rect x="531.5" y="453" width="17.5" height="26.5" fill="url(#p2sil)"/>
<rect x="543" y="479" width="6" height="12" fill="#b8bcc6"/>
<rect x="529" y="479" width="14.5" height="11.5" fill="#232022"/>
<rect x="536" y="458" width="3" height="4" fill="#6a6e76"/><rect x="536" y="466" width="3" height="4" fill="#6a6e76"/><rect x="536" y="473.5" width="3" height="3.5" fill="#6a6e76"/>
<rect x="542.6" y="490" width="6.6" height="190" fill="url(#p2sil)"/>
<rect x="549" y="453" width="5.2" height="256" fill="#6e747c"/>
<rect x="550.4" y="455.0" width="2.2" height="3.2" fill="#343940"/><rect x="550.4" y="461.4" width="2.2" height="3.2" fill="#343940"/><rect x="550.4" y="467.8" width="2.2" height="3.2" fill="#343940"/><rect x="550.4" y="474.2" width="2.2" height="3.2" fill="#343940"/><rect x="550.4" y="480.6" width="2.2" height="3.2" fill="#343940"/><rect x="550.4" y="487.0" width="2.2" height="3.2" fill="#343940"/><rect x="550.4" y="493.4" width="2.2" height="3.2" fill="#343940"/><rect x="550.4" y="499.8" width="2.2" height="3.2" fill="#343940"/><rect x="550.4" y="506.2" width="2.2" height="3.2" fill="#343940"/><rect x="550.4" y="512.6" width="2.2" height="3.2" fill="#343940"/><rect x="550.4" y="519.0" width="2.2" height="3.2" fill="#343940"/><rect x="550.4" y="525.4" width="2.2" height="3.2" fill="#343940"/><rect x="550.4" y="531.8" width="2.2" height="3.2" fill="#343940"/><rect x="550.4" y="538.2" width="2.2" height="3.2" fill="#343940"/><rect x="550.4" y="544.6" width="2.2" height="3.2" fill="#343940"/><rect x="550.4" y="551.0" width="2.2" height="3.2" fill="#343940"/><rect x="550.4" y="557.4" width="2.2" height="3.2" fill="#343940"/><rect x="550.4" y="563.8" width="2.2" height="3.2" fill="#343940"/><rect x="550.4" y="570.2" width="2.2" height="3.2" fill="#343940"/><rect x="550.4" y="576.6" width="2.2" height="3.2" fill="#343940"/><rect x="550.4" y="583.0" width="2.2" height="3.2" fill="#343940"/><rect x="550.4" y="589.4" width="2.2" height="3.2" fill="#343940"/><rect x="550.4" y="595.8" width="2.2" height="3.2" fill="#343940"/><rect x="550.4" y="602.2" width="2.2" height="3.2" fill="#343940"/><rect x="550.4" y="608.6" width="2.2" height="3.2" fill="#343940"/><rect x="550.4" y="615.0" width="2.2" height="3.2" fill="#343940"/><rect x="550.4" y="621.4" width="2.2" height="3.2" fill="#343940"/><rect x="550.4" y="627.8" width="2.2" height="3.2" fill="#343940"/><rect x="550.4" y="634.2" width="2.2" height="3.2" fill="#343940"/><rect x="550.4" y="640.6" width="2.2" height="3.2" fill="#343940"/><rect x="550.4" y="647.0" width="2.2" height="3.2" fill="#343940"/><rect x="550.4" y="653.4" width="2.2" height="3.2" fill="#343940"/><rect x="550.4" y="659.8" width="2.2" height="3.2" fill="#343940"/><rect x="550.4" y="666.2" width="2.2" height="3.2" fill="#343940"/><rect x="550.4" y="672.6" width="2.2" height="3.2" fill="#343940"/><rect x="550.4" y="679.0" width="2.2" height="3.2" fill="#343940"/><rect x="550.4" y="685.4" width="2.2" height="3.2" fill="#343940"/><rect x="550.4" y="691.8" width="2.2" height="3.2" fill="#343940"/><rect x="550.4" y="698.2" width="2.2" height="3.2" fill="#343940"/><rect x="550.4" y="704.6" width="2.2" height="3.2" fill="#343940"/>
<rect x="523.5" y="483" width="9" height="8" rx="2" fill="#77777b"/>
<rect x="535" y="481" width="4" height="6" rx="1.5" fill="#9a7a86"/><rect x="540.5" y="481" width="2.5" height="7" rx="1" fill="#7a6a7a"/>
<rect x="515.4" y="494" width="17" height="182" fill="url(#p2face)"/>
<rect x="532.2" y="494" width="10.5" height="184" fill="#2e2e31"/>
<rect x="515.4" y="494" width="1.2" height="182" fill="#7a7a7e" opacity="0.6"/>
<path d="M515.4 490.6 L542.7 490.2 L542.7 493.4 L532.2 494.8 L515.4 494.8 Z" fill="#e9c22e"/>
<path d="M515.4 672.6 L530.5 678.2 L542.6 671.6 L542.6 674.8 L530.5 681.4 L515.4 675.8 Z" fill="#e6d25a"/>
<rect x="519.6" y="499.5" width="8.6" height="9.6" fill="#4a4a4e" stroke="#b4b4b8" stroke-width="0.9"/>
<rect x="521.4" y="501.4" width="1.8" height="5.6" fill="#d8d8d8"/><rect x="524.6" y="501.4" width="1.8" height="5.6" fill="#d8d8d8"/>
<rect x="518.4" y="516" width="9.4" height="14.8" fill="#3e3e42" stroke="#c0c0c4" stroke-width="1"/>
<rect x="521" y="519.5" width="3.6" height="8" fill="#c9c9cd"/>
<rect x="519" y="538.0" width="1.8" height="2.4" fill="#1a1a1c"/><rect x="519" y="546.0" width="1.8" height="2.4" fill="#1a1a1c"/><path d="M523 542.0 l5 2" stroke="#151517" stroke-width="2" fill="none"/><rect x="515.4" y="551.0" width="17" height="0.8" fill="#3a3a3d"/><rect x="519" y="555.2" width="1.8" height="2.4" fill="#1a1a1c"/><rect x="519" y="563.2" width="1.8" height="2.4" fill="#1a1a1c"/><path d="M523 559.2 l5 2" stroke="#151517" stroke-width="2" fill="none"/><rect x="515.4" y="568.2" width="17" height="0.8" fill="#3a3a3d"/><rect x="519" y="572.4" width="1.8" height="2.4" fill="#1a1a1c"/><rect x="519" y="580.4" width="1.8" height="2.4" fill="#1a1a1c"/><path d="M523 576.4 l5 2" stroke="#151517" stroke-width="2" fill="none"/><rect x="515.4" y="585.4" width="17" height="0.8" fill="#3a3a3d"/><rect x="519" y="589.6" width="1.8" height="2.4" fill="#1a1a1c"/><rect x="519" y="597.6" width="1.8" height="2.4" fill="#1a1a1c"/><path d="M523 593.6 l5 2" stroke="#151517" stroke-width="2" fill="none"/><rect x="515.4" y="602.6" width="17" height="0.8" fill="#3a3a3d"/><rect x="519" y="606.8" width="1.8" height="2.4" fill="#1a1a1c"/><rect x="519" y="614.8" width="1.8" height="2.4" fill="#1a1a1c"/><path d="M523 610.8 l5 2" stroke="#151517" stroke-width="2" fill="none"/><rect x="515.4" y="619.8" width="17" height="0.8" fill="#3a3a3d"/><rect x="519" y="624.0" width="1.8" height="2.4" fill="#1a1a1c"/><rect x="519" y="632.0" width="1.8" height="2.4" fill="#1a1a1c"/><path d="M523 628.0 l5 2" stroke="#151517" stroke-width="2" fill="none"/><rect x="515.4" y="637.0" width="17" height="0.8" fill="#3a3a3d"/><rect x="519" y="641.2" width="1.8" height="2.4" fill="#1a1a1c"/><rect x="519" y="649.2" width="1.8" height="2.4" fill="#1a1a1c"/><path d="M523 645.2 l5 2" stroke="#151517" stroke-width="2" fill="none"/><rect x="515.4" y="654.2" width="17" height="0.8" fill="#3a3a3d"/><rect x="519" y="658.4" width="1.8" height="2.4" fill="#1a1a1c"/><rect x="519" y="666.4" width="1.8" height="2.4" fill="#1a1a1c"/><path d="M523 662.4 l5 2" stroke="#151517" stroke-width="2" fill="none"/><rect x="515.4" y="671.4" width="17" height="0.8" fill="#3a3a3d"/>
<rect x="528.8" y="680" width="16" height="30" fill="url(#p2sil)"/>
<rect x="533" y="684" width="2.6" height="3" fill="#555960"/><rect x="533" y="691" width="2.6" height="3" fill="#555960"/><rect x="533" y="698" width="2.6" height="3" fill="#555960"/>
<rect x="537" y="676" width="6" height="8" fill="#6a6a70"/>
<rect x="554.2" y="453" width="91" height="256" fill="url(#p2r)"/>
<rect x="554.2" y="453" width="91" height="10" fill="#0f1012"/>
<rect x="556" y="464" width="86" height="9" fill="#2a2d30"/>
<rect x="559.0" y="465.5" width="2" height="6" rx="1" fill="#101113"/><rect x="563.3" y="465.5" width="2" height="6" rx="1" fill="#101113"/><rect x="567.6" y="465.5" width="2" height="6" rx="1" fill="#101113"/><rect x="571.9" y="465.5" width="2" height="6" rx="1" fill="#101113"/><rect x="576.2" y="465.5" width="2" height="6" rx="1" fill="#101113"/><rect x="580.5" y="465.5" width="2" height="6" rx="1" fill="#101113"/><rect x="584.8" y="465.5" width="2" height="6" rx="1" fill="#101113"/><rect x="589.1" y="465.5" width="2" height="6" rx="1" fill="#101113"/><rect x="593.4" y="465.5" width="2" height="6" rx="1" fill="#101113"/><rect x="597.7" y="465.5" width="2" height="6" rx="1" fill="#101113"/><rect x="602.0" y="465.5" width="2" height="6" rx="1" fill="#101113"/><rect x="606.3" y="465.5" width="2" height="6" rx="1" fill="#101113"/><rect x="610.6" y="465.5" width="2" height="6" rx="1" fill="#101113"/><rect x="614.9" y="465.5" width="2" height="6" rx="1" fill="#101113"/><rect x="619.2" y="465.5" width="2" height="6" rx="1" fill="#101113"/><rect x="623.5" y="465.5" width="2" height="6" rx="1" fill="#101113"/><rect x="627.8" y="465.5" width="2" height="6" rx="1" fill="#101113"/><rect x="632.1" y="465.5" width="2" height="6" rx="1" fill="#101113"/><rect x="636.4" y="465.5" width="2" height="6" rx="1" fill="#101113"/><rect x="640.7" y="465.5" width="2" height="6" rx="1" fill="#101113"/>
<rect x="556" y="473" width="86" height="8" fill="#15171a"/>
<path d="M555 598.5 L644 574 L644 579 L555 601.5 Z" fill="#34373b"/>
<path d="M555 601.5 L644 579 L644 610 L555 640 Z" fill="#15171a"/>
<path d="M586 596 l0 28 M589 595 l0 28 M593 594 l0 28" stroke="#2e3236" stroke-width="1" fill="none"/>
<path d="M549 654 L644 604 L644 686 L549 658 Z" fill="#0d0e10"/>
<path d="M549 655.6 L643 685.6 L643 695 L549 662 Z" fill="#7d7f87"/>
<path d="M549 655.6 L643 685.6 L643 687.5 L549 657.2 Z" fill="#9a9ca4"/>
<path d="M549 662 L643 695 L644 709 L549 709 Z" fill="#131517"/>
<path d="M583 676 l0 30 M587 677 l0 30" stroke="#30343a" stroke-width="1" fill="none"/>
<path d="M569 642.5 h18 M590 631 h18 M590 649 h18 M610 621 h16 M610 636 h16 M612 655 h16" stroke="#3c4046" stroke-width="1.3" fill="none"/>
</g></g>
<rect x="472.2" y="454.4" width="171.1" height="252.5" rx="3" fill="none" stroke="#15308c" stroke-width="2.2"/>
<defs>
<clipPath id="ph3"><rect x="102.6" y="742.8" width="168.2" height="148.6" rx="3"/></clipPath>
<linearGradient id="p3bg" x1="0" y1="0" x2="0" y2="1"><stop offset="0" stop-color="#cdcdcd"/><stop offset="0.5" stop-color="#c7c7c7"/><stop offset="0.88" stop-color="#c9c9c9"/><stop offset="1" stop-color="#d4d4d4"/></linearGradient>
<linearGradient id="p3top" x1="0" y1="0" x2="0" y2="1"><stop offset="0" stop-color="#3d3c3b"/><stop offset="0.3" stop-color="#4c4b48"/><stop offset="0.7" stop-color="#484744"/><stop offset="1" stop-color="#3c3b39"/></linearGradient>
</defs>
<rect x="101.4" y="741.6" width="170.6" height="151" rx="4" fill="#dde4f0"/>
<g clip-path="url(#ph3)"><g filter="url(#soft2)">
<rect x="102" y="742" width="170" height="150" fill="url(#p3bg)"/>
<linearGradient id="p3l" x1="0" y1="0" x2="1" y2="0"><stop offset="0" stop-color="#e4e4e4"/><stop offset="0.7" stop-color="#dcdcdc"/><stop offset="1" stop-color="#c8c8c8"/></linearGradient>
<rect x="102" y="798" width="125" height="22" fill="url(#p3l)"/>
<rect x="102" y="866" width="120" height="14" fill="#d6d6d6"/>
<path d="M102 754 L214.2 757.2 L208.4 786 L102 783.2 Z" fill="url(#p3top)"/>
<path d="M102 783.2 L208.4 786 L212.4 806 L102 799.8 Z" fill="#312f2c"/>
<path d="M102 783.2 L208.4 786 L208.5 787.4 L102 784.6 Z" fill="#5a5a5e"/>
<path d="M102 757.6 L213 760.8 M102 761.2 L213 764.3 M102 764.8 L213 767.9 M102 768.4 L213 771.4 M102 772.0 L213 775.0 M102 775.6 L213 778.5 M102 779.2 L213 782.1 " stroke="#333336" stroke-width="0.8" fill="none" opacity="0.8"/>
<path d="M124.5 787.5 l3.2 4.6" stroke="#0c0c0c" stroke-width="2.4" stroke-linecap="round" fill="none"/><path d="M118.5 796.3 l4.4 0.3" stroke="#0c0c0c" stroke-width="2" stroke-linecap="round" fill="none"/><path d="M133.5 797.3 l4.4 0.3" stroke="#0c0c0c" stroke-width="2" stroke-linecap="round" fill="none"/><path d="M158.5 787.5 l3.2 4.6" stroke="#0c0c0c" stroke-width="2.4" stroke-linecap="round" fill="none"/><path d="M152.5 797.9 l4.4 0.3" stroke="#0c0c0c" stroke-width="2" stroke-linecap="round" fill="none"/><path d="M167.5 798.9 l4.4 0.3" stroke="#0c0c0c" stroke-width="2" stroke-linecap="round" fill="none"/><path d="M192.5 787.5 l3.2 4.6" stroke="#0c0c0c" stroke-width="2.4" stroke-linecap="round" fill="none"/><path d="M186.5 799.4 l4.4 0.3" stroke="#0c0c0c" stroke-width="2" stroke-linecap="round" fill="none"/><path d="M201.5 800.4 l4.4 0.3" stroke="#0c0c0c" stroke-width="2" stroke-linecap="round" fill="none"/>
<path d="M218.7 756.8 L222.8 757.4 L222.2 779 L216.7 806 L212.7 786 Z" fill="#383b3e"/>
<path d="M214 756.8 L218.7 756.8 L212.7 786 L216.7 806 L212 806 L208 786 Z" fill="#f1ba45"/>
<path d="M220.2 757 L239.5 756.6 Q240.8 756.8 240.8 758.4 L240.8 776.5 Q240.8 778.2 239.3 778.3 L221.6 778.4 Z" fill="#232428"/>
<rect x="224.5" y="758.6" width="11" height="2.6" rx="1.2" fill="#cfcfcf"/>
<rect x="225.5" y="766.6" width="11" height="2.6" rx="1.2" fill="#c8c8c8"/>
<rect x="226.5" y="774.4" width="6" height="2.6" rx="1.2" fill="#c8c8c8"/>
<path d="M102 817.2 L196.7 823 L188.7 858 L102 848.6 Z" fill="url(#p3top)"/>
<path d="M102 848.6 L188.7 858 L194.7 875.4 L102 866.6 Z" fill="#33312e"/>
<path d="M102 848.6 L188.7 858 L188.9 859.4 L102 850 Z" fill="#58585c"/>
<path d="M102 820.7 L195.6 826.9 M102 824.2 L194.7 830.8 M102 827.7 L193.8 834.7 M102 831.2 L192.9 838.6 M102 834.7 L192.0 842.5 M102 838.2 L191.1 846.4 M102 841.7 L190.2 850.3 M102 845.2 L189.3 854.2 " stroke="#323235" stroke-width="0.8" fill="none" opacity="0.8"/>
<path d="M133.0 855.0 l3.4 4.8" stroke="#0c0c0c" stroke-width="2.4" stroke-linecap="round" fill="none"/><path d="M127.0 864.6 l4.6 0.5" stroke="#0c0c0c" stroke-width="2" stroke-linecap="round" fill="none"/><path d="M143.0 866.0 l4.6 0.5" stroke="#0c0c0c" stroke-width="2" stroke-linecap="round" fill="none"/><path d="M170.0 858.7 l3.4 4.8" stroke="#0c0c0c" stroke-width="2.4" stroke-linecap="round" fill="none"/><path d="M164.0 868.3 l4.6 0.5" stroke="#0c0c0c" stroke-width="2" stroke-linecap="round" fill="none"/><path d="M180.0 869.7 l4.6 0.5" stroke="#0c0c0c" stroke-width="2" stroke-linecap="round" fill="none"/><path d="M108 863.5 l4.6 0.5" stroke="#0c0c0c" stroke-width="2" stroke-linecap="round" fill="none"/>
<path d="M201.4 822.8 L203.4 823.4 L207.6 843.4 L206 857 L203 870 L200 875.4 L194 858 Z" fill="#3c3e40"/>
<path d="M196.7 822.7 L201.4 822.7 L194 858 L200 875.4 L194.7 875.4 L188.7 858 Z" fill="#f1ba45"/>
<path d="M201.6 858.4 L215.6 859.8 Q217 860 217.4 861.4 L221.6 878 Q221.9 879.6 220.4 879.4 L204.4 875.6 L200.4 874 Z" fill="#2a2c30"/>
<path d="M205 861.6 l8.6 1" stroke="#c4c4c4" stroke-width="2.2" stroke-linecap="round" fill="none"/>
<path d="M206 867.6 l7 1" stroke="#bcbcbc" stroke-width="2.2" stroke-linecap="round" fill="none"/>
<path d="M207.4 873.6 l9.4 1.6" stroke="#bcbcbc" stroke-width="2.2" stroke-linecap="round" fill="none"/>
</g></g>
<rect x="103.3" y="743.5" width="166.8" height="147.2" rx="2.2" fill="none" stroke="#1c2f84" stroke-width="2"/>
<line x1="236" y1="775.6" x2="339.5" y2="775.6" stroke="#e5303a" stroke-width="1.5"/>
<line x1="218.5" y1="866.4" x2="339.5" y2="866.4" stroke="#e5303a" stroke-width="1.5"/>
<circle cx="236" cy="775.8" r="3.4" fill="#f0101c"/>
<circle cx="218.5" cy="865.8" r="3.4" fill="#f0101c"/>
<defs>
<linearGradient id="p4top" x1="0" y1="0" x2="0" y2="1"><stop offset="0" stop-color="#171a22"/><stop offset="1" stop-color="#1c202a"/></linearGradient>
</defs>
<path d="M507.6 756.2 L559.6 756.2 L555 818.8 L489.2 819.4 Z" fill="url(#p4top)"/>
<path d="M513.4 757 L496.5 818 M519.2 757 L503.8 818 M525.0 757 L511.1 818 M530.8 757 L518.4 818 M536.6 757 L525.7 818 M542.4 757 L533.0 818 M548.2 757 L540.3 818 M554.0 757 L547.6 818 " stroke="#2a3040" stroke-width="0.9" fill="none" opacity="0.8"/>
<path d="M555 818 L559.6 756.2 L558 822 L557.4 878.6 L553.4 878.6 Z" fill="#11141a"/>
<path d="M489.2 819 L555 818.2 L554.8 823.2 L492.4 824.6 Z" fill="#ec9a2e"/>
<path d="M492.2 824.2 L555.4 822.8 L557.2 877 Q557.2 879 555 879 L495.6 879.2 Q493.8 879.2 493.8 877.4 Z" fill="#15181f"/>
<path d="M480.4 839.6 L489 825.2 L493.4 826.4 L494.2 877.8 L487.8 895.6 Q487 897 485.8 896 Q485 895.4 484.9 894 Z" fill="#11141a"/>
<path d="M485.2 838 l2.4 -4.4 M486.6 860.4 l2 -4.4 M486.8 881.6 l1.8 -4.6" stroke="#c8c8c8" stroke-width="2.2" stroke-linecap="round" fill="none"/>
<circle cx="498.8" cy="831.4" r="2.6" fill="#2c3444" stroke="#566078" stroke-width="1.2"/>
<circle cx="499.40000000000003" cy="830.6" r="1" fill="#10131a"/>
<circle cx="543.6" cy="829.8" r="2.6" fill="#2c3444" stroke="#566078" stroke-width="1.2"/>
<circle cx="544.2" cy="829.0" r="1" fill="#10131a"/>
<circle cx="502" cy="870.6" r="2.6" fill="#2c3444" stroke="#566078" stroke-width="1.2"/>
<circle cx="502.6" cy="869.8000000000001" r="1" fill="#10131a"/>
<circle cx="545.2" cy="868.2" r="2.6" fill="#2c3444" stroke="#566078" stroke-width="1.2"/>
<circle cx="545.8000000000001" cy="867.4000000000001" r="1" fill="#10131a"/>
<path d="M574.6 756.2 L629.8 756.2 L646 813.8 L576.2 813.8 Z" fill="url(#p4top)"/>
<path d="M580.1 757 L583.2 813 M585.6 757 L590.2 813 M591.1 757 L597.2 813 M596.6 757 L604.2 813 M602.1 757 L611.2 813 M607.6 757 L618.2 813 M613.1 757 L625.2 813 M618.6 757 L632.2 813 M624.1 757 L639.2 813 " stroke="#283040" stroke-width="0.9" fill="none" opacity="0.8"/>
<rect x="576" y="810.6" width="68" height="3" fill="#1b2660"/>
<path d="M576.2 813.6 L646 813.6 L646.6 817.6 L576.4 817.8 Z" fill="#e9a03c"/>
<path d="M576.3 817.6 L644 817.6 L643.6 877 Q643.6 879 641.6 879 L578.6 879 Q576.8 879 576.7 877.2 Z" fill="#161a23"/>
<rect x="576.4" y="817.6" width="67.4" height="2" fill="#16235a"/>
<path d="M643.4 819.4 L653.8 834.6 L652.4 895 Q652.2 896.6 650.8 896.4 L648.6 896 L641.8 877.8 Z" fill="#11141a"/>
<path d="M647.4 834 l2.2 4.6 M648 856 l1.8 4.6 M648.2 877 l1.6 4.6" stroke="#3a4050" stroke-width="2" stroke-linecap="round" fill="none"/>
<circle cx="587.4" cy="828.2" r="2.6" fill="#2c3444" stroke="#566078" stroke-width="1.2"/>
<circle cx="588.0" cy="827.4000000000001" r="1" fill="#10131a"/>
<circle cx="635.4" cy="828" r="2.6" fill="#2c3444" stroke="#566078" stroke-width="1.2"/>
<circle cx="636.0" cy="827.2" r="1" fill="#10131a"/>
<circle cx="586.6" cy="869" r="2.6" fill="#2c3444" stroke="#566078" stroke-width="1.2"/>
<circle cx="587.2" cy="868.2" r="1" fill="#10131a"/>
<circle cx="633.8" cy="869" r="2.6" fill="#2c3444" stroke="#566078" stroke-width="1.2"/>
<circle cx="634.4" cy="868.2" r="1" fill="#10131a"/>
</svg>
</body></html>
